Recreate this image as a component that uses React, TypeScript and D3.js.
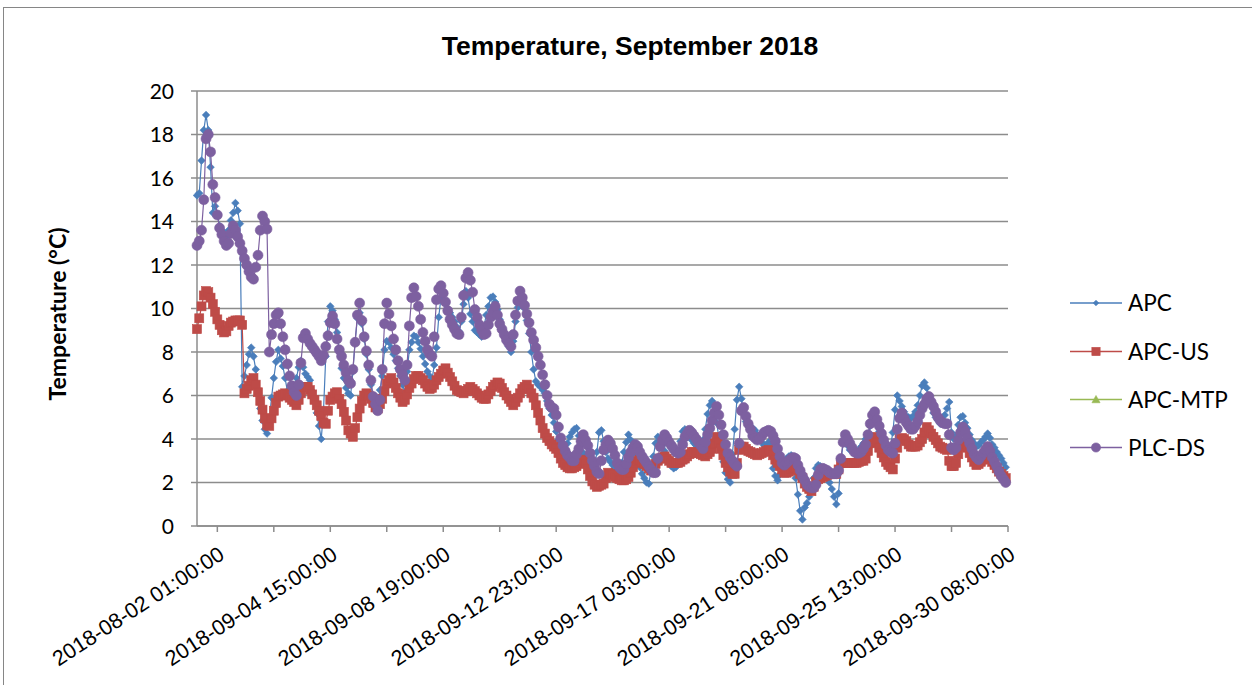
import React from "react";
import * as d3 from "d3";

// ---- data: one reading every 2 hourly categories ----
const STEP = 2;
const N_CATS = 718;
const TICK_START = 18;
const TICK_EVERY = 50;
const LABEL_EVERY = 100;

const xLabels = [
  "2018-08-02 01:00:00",
  "2018-09-04 15:00:00",
  "2018-09-08 19:00:00",
  "2018-09-12 23:00:00",
  "2018-09-17 03:00:00",
  "2018-09-21 08:00:00",
  "2018-09-25 13:00:00",
  "2018-09-30 08:00:00",
];
const yTicks = [0, 2, 4, 6, 8, 10, 12, 14, 16, 18, 20];

const apc = [
  15.2, 15.3, 16.8, 18.2, 18.9, 18.2, 16.5, 14.4, 14.7, 14.3,
  13.8, 13.6, 13.45, 13.3, 13.6, 14.05, 14.4, 14.85, 14.5, 13.9,
  6.4, 6.9, 7.4, 7.9, 8.2, 7.8, 7.2, 6.1, 5.4, 4.85,
  4.45, 4.25, 4.9, 5.9, 6.8, 7.55, 8.1, 7.7, 7.35, 6.8,
  6.2, 5.95, 6.0, 6.2, 6.8, 7.3, 7.6, 7.3, 7.0, 6.85,
  6.7, 6.2, 5.7, 5.2, 4.6, 4.0, 5.3, 7.8, 9.4, 10.1,
  9.9, 9.5, 8.9, 8.1, 7.25, 6.8, 6.35, 6.1, 6.0, 7.1,
  8.5, 9.55, 9.8, 9.3, 8.6, 7.9, 7.2, 6.5, 5.8, 5.5,
  5.55, 6.25, 6.9, 8.1, 8.5, 8.45, 8.2, 7.9, 7.6, 7.25,
  6.9, 6.5, 6.15, 7.1, 8.1, 8.45, 8.75, 8.7, 8.45, 8.15,
  7.8, 7.45, 7.1, 6.9, 6.7, 7.4, 8.2, 9.6, 10.5, 10.35,
  10.2, 10.0, 9.8, 9.6, 9.4, 9.15, 8.95, 9.4, 10.2, 10.8,
  10.5, 9.75, 9.4, 9.0, 8.9, 8.8, 8.7, 9.15, 9.7, 10.1,
  10.5, 10.55, 10.3, 9.95, 9.5, 9.1, 8.75, 8.5, 8.25, 8.0,
  8.5, 9.4, 10.05, 10.5, 10.3, 10.0, 9.45, 8.85, 8.0, 7.2,
  6.65, 6.5, 6.4, 6.25, 6.1, 5.75, 5.4, 5.1, 4.75, 4.35,
  3.95, 3.6, 3.45, 3.35, 3.8, 4.1, 4.3, 4.45, 4.5, 4.15,
  3.75, 3.35, 3.2, 3.1, 2.8, 2.5, 2.7, 3.4, 4.3, 4.4,
  3.9, 3.4, 3.1, 2.95, 2.8, 2.65, 2.55, 2.7, 2.9, 3.4,
  3.85, 4.2, 3.95, 3.7, 3.35, 3.0, 2.7, 2.4, 2.2, 2.0,
  1.95, 2.55, 3.2, 3.8, 4.1, 3.9, 3.7, 3.45, 3.2, 2.95,
  2.75, 2.65, 2.7, 3.35, 3.9, 4.35, 4.45, 4.3, 4.15, 3.95,
  3.8, 3.7, 3.6, 3.6, 3.95, 4.45, 5.15, 5.55, 5.75, 5.2,
  4.75, 4.1, 3.5, 2.95, 2.45, 2.15, 2.0, 3.3, 4.45, 5.8,
  6.4, 5.85, 5.2, 4.8, 4.65, 4.55, 4.5, 4.4, 4.2, 4.0,
  3.85, 3.7, 3.7, 3.85, 3.75, 2.65, 2.3, 2.1, 2.35, 2.7,
  2.95, 3.1, 3.2, 3.25, 2.8, 2.2, 1.45, 0.7, 0.3, 0.85,
  1.05, 1.35, 1.75, 2.2, 2.65, 2.8, 2.75, 2.6, 2.4, 2.2,
  2.0, 1.7, 1.35, 1.0, 1.5, 2.9, 3.8, 3.95, 3.7, 3.5,
  3.45, 3.4, 3.35, 3.5, 3.65, 3.8, 4.0, 4.2, 4.6, 4.9,
  4.95, 4.65, 4.35, 4.1, 3.9, 3.7, 3.65, 3.65, 4.3, 5.35,
  6.0, 5.75, 5.5, 5.25, 5.05, 5.0, 4.95, 5.05, 5.25, 5.55,
  6.0, 6.45, 6.6, 6.35, 6.0, 5.6, 5.2, 5.0, 4.85, 4.7,
  4.85, 5.1, 5.4, 5.7, 4.3, 4.0, 4.15, 4.65, 5.0, 5.05,
  4.75, 4.5, 4.2, 3.95, 3.8, 3.65, 3.7, 3.85, 3.95, 4.1,
  4.25, 4.05, 3.75, 3.6, 3.4, 3.25, 3.1, 2.9, 2.7,
];

const apcUS = [
  9.05, 9.55, 10.1, 10.6, 10.8, 10.75, 10.5, 10.2, 9.85, 9.5,
  9.25, 9.0, 8.9, 8.95, 9.2, 9.35, 9.4, 9.45, 9.45, 9.45,
  9.25, 6.1, 6.3, 6.45, 6.7, 6.8, 6.5, 6.15, 5.75, 5.35,
  4.95, 4.65, 4.6, 4.95, 5.3, 5.65, 5.95, 6.0, 6.05, 6.1,
  6.0, 5.9, 5.8, 5.7, 5.55, 5.8, 6.1, 6.4, 6.4, 6.4,
  6.25, 6.05, 5.8, 5.55, 5.3, 5.05, 4.75, 4.7, 5.3, 5.8,
  5.95, 6.1, 6.15, 5.85, 5.6, 5.25, 4.85, 4.4, 4.25, 4.1,
  4.5, 5.0, 5.4, 5.75, 6.0, 6.1, 6.0, 5.85, 5.65, 5.45,
  5.4, 5.6, 5.85, 6.2, 6.55, 6.7, 6.8, 6.6, 6.35, 6.1,
  5.9, 5.7, 5.8, 6.05, 6.35, 6.55, 6.75, 6.9, 6.9, 6.8,
  6.7, 6.55, 6.4, 6.3, 6.35, 6.5, 6.7, 6.85, 7.0, 7.15,
  7.25, 7.05, 6.85, 6.65, 6.45, 6.25, 6.2, 6.15, 6.1, 6.2,
  6.3, 6.4, 6.3, 6.2, 6.1, 6.0, 5.9, 5.85, 5.85, 6.05,
  6.2, 6.4, 6.5, 6.6, 6.55, 6.35, 6.15, 6.0, 5.85, 5.7,
  5.55, 5.7, 5.9, 6.1, 6.3, 6.4, 6.5, 6.3, 6.1, 5.9,
  5.55, 5.2, 4.85, 4.5, 4.25, 4.05, 3.9, 3.75, 3.65, 3.55,
  3.35, 3.1, 2.9, 2.8, 2.7, 2.65, 2.65, 2.7, 2.75, 2.9,
  3.05, 3.0, 2.85, 2.6, 2.3, 2.05, 1.9, 1.8, 1.85, 1.9,
  1.95, 2.2, 2.45, 2.4, 2.35, 2.25, 2.2, 2.15, 2.1, 2.1,
  2.15, 2.25, 2.45, 2.7, 2.9, 3.0, 3.05, 2.95, 2.85, 2.75,
  2.65, 2.55, 2.65, 2.85, 3.0, 3.1, 3.15, 3.2, 3.1, 3.0,
  2.9, 2.9, 2.9, 2.9, 2.95, 3.05, 3.1, 3.2, 3.3, 3.4,
  3.4, 3.35, 3.35, 3.3, 3.25, 3.2, 3.3, 3.4, 3.55, 3.8,
  4.1, 3.85, 3.55, 3.25, 2.9, 2.7, 2.5, 2.4, 2.4, 2.9,
  3.5, 3.65, 3.65, 3.55, 3.45, 3.4, 3.35, 3.3, 3.25, 3.3,
  3.35, 3.4, 3.45, 3.5, 3.45, 3.25, 3.05, 2.9, 2.75, 2.6,
  2.45, 2.45, 2.5, 2.6, 2.7, 2.7, 2.55, 2.4, 2.2, 1.95,
  1.8, 1.7, 1.6, 1.8, 2.05, 2.15, 2.2, 2.25, 2.3, 2.35,
  2.4, 2.4, 2.4, 2.4, 2.6, 2.9, 2.9, 2.9, 2.9, 2.9,
  2.9, 2.9, 2.9, 2.95, 3.0, 3.0, 3.1, 3.45, 3.8, 4.0,
  4.1, 3.85, 3.6, 3.35, 3.15, 2.95, 2.8, 2.7, 2.6, 3.1,
  3.6, 4.0, 4.05, 4.0, 3.9, 3.75, 3.65, 3.65, 3.65, 3.7,
  3.85, 4.0, 4.3, 4.55, 4.4, 4.25, 4.1, 3.95, 3.8, 3.65,
  3.6, 3.55, 3.5, 3.0, 2.75, 2.75, 2.9, 3.3, 3.65, 3.75,
  3.8, 3.6, 3.35, 3.15, 2.95, 2.8, 2.85, 2.95, 3.05, 3.15,
  3.2, 3.1, 2.95, 2.8, 2.65, 2.5, 2.4, 2.3, 2.2,
];

const apcMTP: number[] = [];

const plcDS = [
  12.9, 13.1, 13.6, 15.0, 17.8, 18.0, 17.2, 15.7, 15.1, 14.3,
  13.7, 13.4, 13.1, 12.9, 13.0, 13.45, 13.8, 13.6, 13.3, 13.0,
  12.65, 12.3, 12.0, 11.7, 11.45, 11.35, 11.9, 12.45, 13.6, 14.25,
  14.0, 13.65, 8.0, 8.8, 9.3, 9.7, 9.8, 9.3, 8.7, 8.1,
  7.45, 6.9, 6.45, 6.15, 6.0, 6.5, 7.5, 8.65, 8.85, 8.6,
  8.4, 8.25, 8.1, 7.95, 7.8, 7.6, 7.85, 8.25, 8.75, 9.35,
  9.65, 9.3, 8.6, 8.1, 7.8, 7.4, 7.05, 6.7, 6.55, 7.2,
  8.45, 9.7, 10.25, 9.45, 8.7, 8.05, 7.4, 6.7, 5.95, 5.6,
  5.3, 5.8, 7.2, 9.3, 10.25, 9.75, 9.2, 8.6, 8.1, 7.6,
  7.2, 6.95, 6.7, 7.4, 9.2, 10.5, 10.95, 10.55, 10.1, 9.5,
  8.9, 8.5, 8.1, 7.9, 7.8, 8.7, 10.4, 10.9, 11.05, 10.7,
  10.3, 9.9, 9.5, 9.25, 9.05, 8.85, 8.8, 9.6, 10.6, 11.4,
  11.65, 11.3, 10.75, 9.95, 9.6, 9.25, 9.0, 8.8, 8.85, 9.25,
  9.6, 9.85, 10.1, 9.7, 9.3, 9.05, 8.8, 8.55, 8.4, 8.25,
  8.8, 9.7, 10.35, 10.8, 10.5, 10.15, 9.75, 9.35, 8.9, 8.55,
  8.2, 7.8, 7.4, 6.95, 6.5, 6.0, 5.6, 5.45, 5.4, 5.1,
  4.55, 4.05, 3.7, 3.45, 3.25, 3.15, 3.0, 3.0, 3.3, 3.55,
  3.9, 4.2, 3.95, 3.7, 3.35, 3.0, 2.75, 2.5, 2.4, 3.0,
  3.5, 3.75, 3.95, 3.8, 3.55, 3.25, 2.9, 2.7, 2.6, 2.6,
  2.85, 3.15, 3.4, 3.6, 3.75, 3.65, 3.4, 3.2, 3.05, 2.9,
  2.75, 2.6, 2.45, 2.45, 3.1, 3.65, 3.95, 4.2, 4.05, 3.85,
  3.7, 3.55, 3.4, 3.35, 3.4, 3.75, 4.1, 4.25, 4.4, 4.3,
  4.15, 4.0, 3.85, 3.7, 3.55, 3.85, 4.2, 4.5, 4.85, 5.2,
  5.5, 5.1, 4.65, 4.2, 3.75, 3.35, 3.15, 3.0, 2.85, 2.75,
  3.8, 5.3, 5.45, 5.05, 4.7, 4.45, 4.15, 4.05, 3.95, 4.0,
  4.15, 4.3, 4.35, 4.4, 4.35, 4.15, 3.9, 3.55, 3.2, 2.9,
  2.8, 2.9, 3.0, 3.1, 3.15, 3.1, 2.8, 2.55, 2.3, 2.1,
  1.9, 1.8, 1.75, 1.75, 1.9, 2.35, 2.6, 2.65, 2.6, 2.55,
  2.45, 2.4, 2.4, 2.4, 2.55, 3.1, 3.85, 4.2, 4.0, 3.8,
  3.6, 3.4, 3.35, 3.35, 3.4, 3.55, 3.75, 4.2, 4.7, 5.1,
  5.25, 4.9, 4.6, 4.25, 3.95, 3.7, 3.5, 3.4, 3.35, 3.8,
  4.45, 4.95, 5.2, 4.95, 4.75, 4.6, 4.45, 4.45, 4.6, 4.8,
  5.1, 5.4, 5.6, 5.85, 5.95, 5.7, 5.5, 5.25, 5.0, 4.85,
  4.75, 4.7, 4.7, 4.2, 3.6, 3.5, 3.6, 3.95, 4.3, 4.55,
  4.35, 4.05, 3.8, 3.55, 3.3, 3.15, 3.05, 3.2, 3.35, 3.5,
  3.65, 3.45, 3.15, 2.95, 2.75, 2.5, 2.3, 2.15, 2.0,
];

const seriesNames = ["APC", "APC-US", "APC-MTP", "PLC-DS"];
const seriesColors = ["#4A7EBB", "#BE4B48", "#98B954", "#7D60A0"];
const seriesValues = [apc, apcUS, apcMTP, plcDS];
const seriesMarkers = ["diamond", "square", "triangle", "circle"];

const W = 1252;
const H = 685;
const LEFT = 197;
const RIGHT = 1008;
const TOP = 91;
const BOTTOM = 526;

function Marker({ type, cx, cy, color, scale = 1 }: { type: string; cx: number; cy: number; color: string; scale?: number }) {
  if (type === "diamond") {
    const r = 3.8 * scale;
    return (
      <path
        d={`M${cx},${cy - r}L${cx + r},${cy}L${cx},${cy + r}L${cx - r},${cy}Z`}
        fill={color}
        stroke={color}
        strokeWidth={0.6}
      />
    );
  }
  if (type === "square") {
    const s = 9 * scale;
    return <rect x={cx - s / 2} y={cy - s / 2} width={s} height={s} fill={color} stroke={color} strokeWidth={0.6} />;
  }
  if (type === "triangle") {
    const r = 4.4 * scale;
    return (
      <path
        d={`M${cx},${cy - r}L${cx + r},${cy + r * 0.8}L${cx - r},${cy + r * 0.8}Z`}
        fill={color}
        stroke={color}
        strokeWidth={0.6}
      />
    );
  }
  return <circle cx={cx} cy={cy} r={5.0 * scale} fill={color} stroke={color} strokeWidth={0.6} />;
}

export default function App() {
  const x = d3.scaleLinear().domain([0, N_CATS]).range([LEFT, RIGHT]);
  const y = d3.scaleLinear().domain([0, 20]).range([BOTTOM, TOP]);

  const tickIdx = d3.range(TICK_START, N_CATS + 1, TICK_EVERY);
  const labelIdx = d3.range(TICK_START, N_CATS + 1, LABEL_EVERY);

  const line = d3
    .line<number>()
    .x((_, i) => x(i * STEP))
    .y((d) => y(d));

  const legendY = [303, 351.5, 399.5, 447.5];
  const angle = -33;

  return (
    <svg
      width={W}
      height={H}
      style={{ position: "absolute", left: 0, top: 0, display: "block", background: "#fff" }}
    >
      <rect x={3.5} y={7.5} width={W + 10} height={H + 10} fill="#fff" stroke="#868686" strokeWidth={1} />

      <text
        x={630}
        y={54.5}
        textAnchor="middle"
        fontFamily="'Liberation Sans', Arial, sans-serif"
        fontWeight="bold"
        fontSize={26.5}
        fill="#000"
      >
        Temperature, September 2018
      </text>

      {yTicks.map((t) => (
        <line key={`g${t}`} x1={LEFT} x2={RIGHT} y1={y(t)} y2={y(t)} stroke="#8C8C8C" strokeWidth={1.5} />
      ))}

      <line x1={LEFT} x2={LEFT} y1={TOP} y2={BOTTOM} stroke="#8C8C8C" strokeWidth={1.5} />
      {yTicks.map((t) => (
        <g key={`yt${t}`}>
          <line x1={LEFT - 6} x2={LEFT} y1={y(t)} y2={y(t)} stroke="#8C8C8C" strokeWidth={1.5} />
          <text
            x={174}
            y={y(t)}
            dy="0.36em"
            textAnchor="end"
            fontFamily="Lato, 'Noto Sans', sans-serif"
            fontSize={21}
            fill="#000"
          >
            {t}
          </text>
        </g>
      ))}

      <line x1={LEFT} x2={RIGHT} y1={BOTTOM} y2={BOTTOM} stroke="#8C8C8C" strokeWidth={1.5} />
      {tickIdx.map((t) => (
        <line key={`xt${t}`} x1={x(t)} x2={x(t)} y1={BOTTOM} y2={BOTTOM + 6} stroke="#8C8C8C" strokeWidth={1.5} />
      ))}
      {labelIdx.map((t, i) => (
        <text
          key={`xl${t}`}
          transform={`translate(${x(t) + 8.5},${BOTTOM + 32}) rotate(${angle})`}
          textAnchor="end"
          fontFamily="'Liberation Sans', Arial, sans-serif"
          fontSize={21.5}
          fill="#000"
        >
          {xLabels[i]}
        </text>
      ))}

      <text
        transform={`translate(66,314) rotate(-90)`}
        textAnchor="middle"
        fontFamily="Lato, 'Noto Sans', sans-serif"
        fontWeight="bold"
        fontSize={23}
        fill="#000"
      >
        Temperature (°C)
      </text>

      {seriesValues.map((vals, s) => (
        <g key={seriesNames[s]}>
          {vals.length > 0 && (
            <path d={line(vals) || ""} fill="none" stroke={seriesColors[s]} strokeWidth={1.2} />
          )}
          {vals.map((v, i) => (
            <Marker key={i} type={seriesMarkers[s]} cx={x(i * STEP)} cy={y(v)} color={seriesColors[s]} />
          ))}
        </g>
      ))}

      {seriesNames.map((name, s) => (
        <g key={`lg${name}`}>
          <line x1={1070} x2={1122} y1={legendY[s]} y2={legendY[s]} stroke={seriesColors[s]} strokeWidth={1.5} />
          <Marker
            type={seriesMarkers[s]}
            cx={1096}
            cy={legendY[s]}
            color={seriesColors[s]}
            scale={s === 0 ? 0.75 : 0.92}
          />
          <text
            x={1128}
            y={legendY[s] + 8.3}
            fontFamily="Lato, 'Noto Sans', sans-serif"
            fontSize={22.5}
            fill="#000"
          >
            {name}
          </text>
        </g>
      ))}
    </svg>
  );
}
